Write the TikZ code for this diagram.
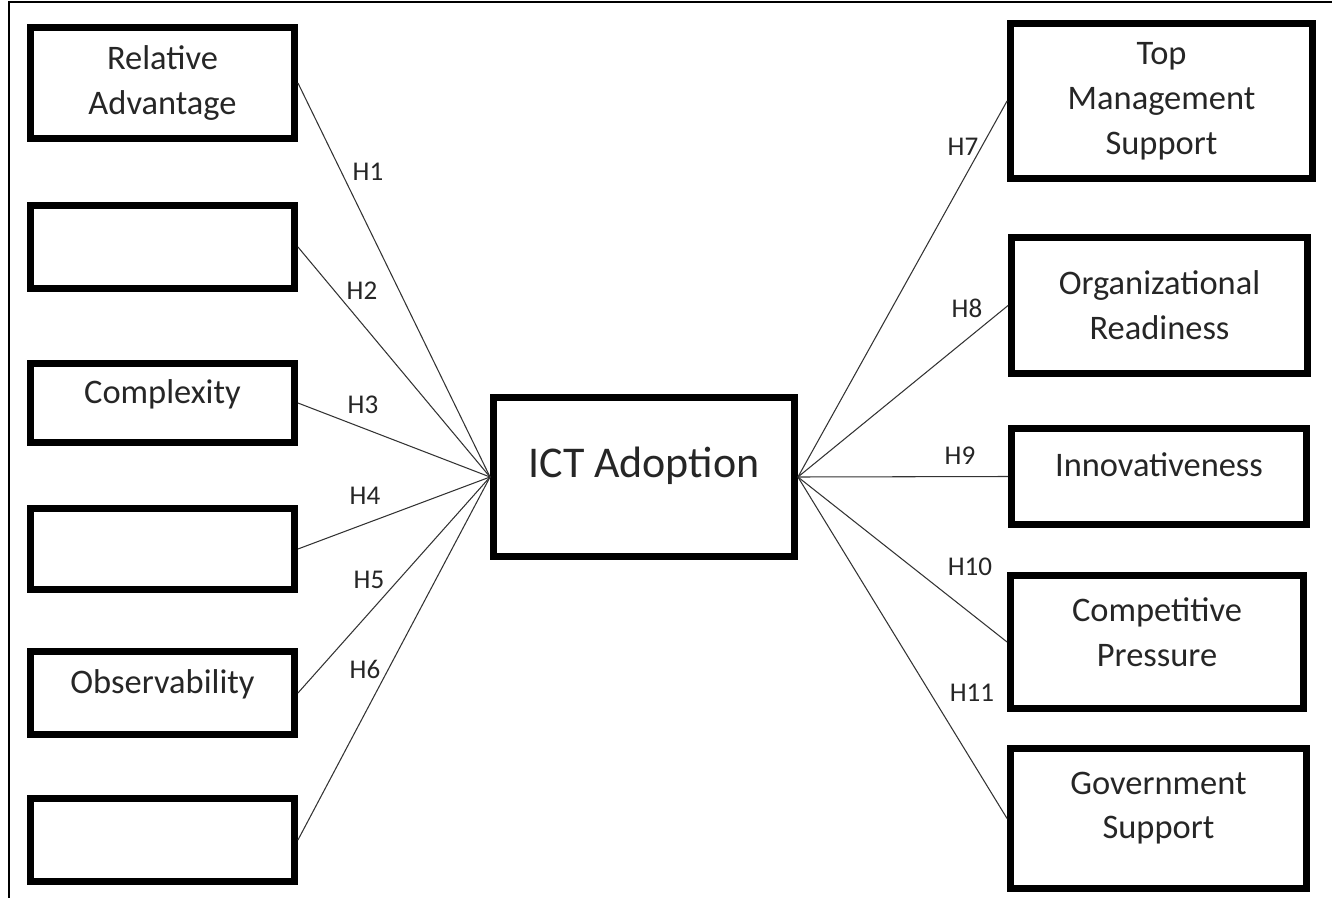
\documentclass[tikz,border=0pt]{standalone}
\usepackage{fontspec}
\setmainfont{Carlito}
\usepackage{tikz}
\usetikzlibrary{positioning}
\tikzstyle{bloc}=[draw, line width=4.2pt, rectangle, align=center, inner sep=0pt, font=\fontsize{19.6}{25.6}\selectfont, text=black!85]
\tikzstyle{oneline}=[text height=6pt, text depth=6pt]
\tikzstyle{hyp}=[font=\fontsize{15.4}{18}\selectfont, text=black!85, inner sep=0pt]
\tikzstyle{lien}=[-, line width=0.6pt, black!80]

\begin{document}
\begin{tikzpicture}

\useasboundingbox (0,0) rectangle (26.64,-17.96);

% cadre
\draw[line width=0.85pt] (0.18,-17.96) -- (0.18,-0.04) -- (26.64,-0.04);

% gauche
\node[bloc, minimum width=5.27cm, minimum height=2.21cm] (ra) at (3.25,-1.66) {Relative\\Advantage};
\node[bloc, minimum width=5.27cm, minimum height=1.65cm] (b2) at (3.25,-4.94) {};
\node[bloc, oneline, minimum width=5.27cm, minimum height=1.57cm] (cx) at (3.25,-8.06) {Complexity};
\node[bloc, minimum width=5.27cm, minimum height=1.61cm] (b4) at (3.25,-10.98) {};
\node[bloc, oneline, minimum width=5.27cm, minimum height=1.65cm] (ob) at (3.25,-13.86) {Observability};
\node[bloc, minimum width=5.27cm, minimum height=1.65cm] (b6) at (3.25,-16.80) {};

% centre
\node[bloc, minimum width=6.01cm, minimum height=3.17cm, font=\fontsize{25}{30}\selectfont, text height=9pt, text depth=9pt] (ict) at (12.88,-9.54) {ICT Adoption};

% droite
\node[bloc, minimum width=6.03cm, minimum height=3.09cm] (tms) at (23.23,-2.02) {Top\\Management\\Support};
\node[bloc, minimum width=5.91cm, minimum height=2.71cm] (or) at (23.19,-6.11) {Organizational\\Readiness};
\node[bloc, oneline, minimum width=5.89cm, minimum height=1.91cm] (in) at (23.18,-9.53) {Innovativeness};
\node[bloc, minimum width=5.85cm, minimum height=2.65cm, text depth=11pt] (cp) at (23.14,-12.84) {Competitive\\Pressure};
\node[bloc, minimum width=5.91cm, minimum height=2.79cm, text depth=15pt] (gs) at (23.17,-16.37) {Government\\Support};

% liens
\draw[lien] (ra.east) -- (ict.west);
\draw[lien] (b2.east) -- (ict.west);
\draw[lien] (cx.east) -- (ict.west);
\draw[lien] (b4.east) -- (ict.west);
\draw[lien] (ob.east) -- (ict.west);
\draw[lien] (b6.east) -- (ict.west);
\draw[lien] (ict.east) -- (tms.west);
\draw[lien] (ict.east) -- (or.west);
\draw[lien] (ict.east) -- (in.west);
\draw[lien] (ict.east) -- (cp.west);
\draw[lien] (ict.east) -- (gs.west);

% hypotheses
\node[hyp] (h1) at (7.36,-3.44) {H1};
\node[hyp] (h2) at (7.24,-5.82) {H2};
\node[hyp] (h3) at (7.26,-8.10) {H3};
\node[hyp] (h4) at (7.30,-9.92) {H4};
\node[hyp] (h5) at (7.38,-11.60) {H5};
\node[hyp] (h6) at (7.30,-13.38) {H6};
\node[hyp] (h7) at (19.26,-2.94) {H7};
\node[hyp] (h8) at (19.34,-6.16) {H8};
\node[hyp] (h9) at (19.20,-9.12) {H9};
\node[hyp] (h10) at (19.40,-11.34) {H10};
\node[hyp] (h11) at (19.44,-13.86) {H11};

\end{tikzpicture}
\end{document}
